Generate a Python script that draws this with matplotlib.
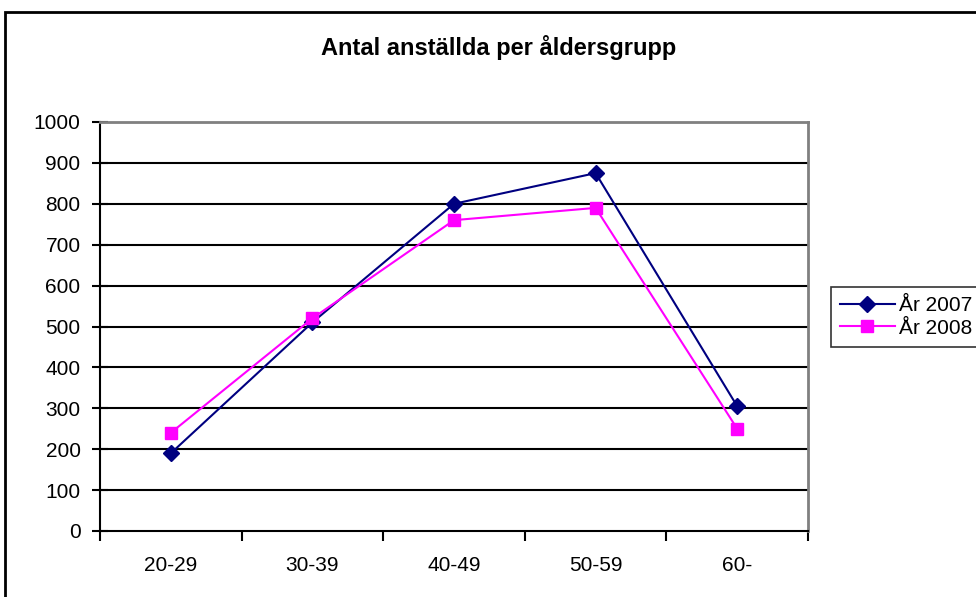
import matplotlib
matplotlib.use('Agg')
import matplotlib.pyplot as plt
from matplotlib.patches import Rectangle

categories = ['20-29', '30-39', '40-49', '50-59', '60-']
ar_2007 = [190, 510, 800, 875, 305]
ar_2008 = [240, 520, 760, 790, 250]
yticks = list(range(0, 1001, 100))

plt.rcParams['font.family'] = ['Liberation Sans', 'DejaVu Sans']

fig = plt.figure(figsize=(9.76, 5.97), dpi=100)
ax = fig.add_axes([100/976, 1 - 531/597, 708/976, 409/597])

x = list(range(len(categories)))
ax.plot(x, ar_2007, color='#000080', marker='D', markersize=8.5, lw=1.5,
        label='År 2007', zorder=3)
ax.plot(x, ar_2008, color='#FF00FF', marker='s', markersize=8.5, lw=1.5,
        label='År 2008', zorder=3)

ax.set_xlim(-0.5, len(categories) - 0.5)
ax.set_ylim(0, 1000)
ax.set_yticks(yticks)
ax.set_yticklabels([str(v) for v in yticks], fontsize=15)
for v in yticks[1:]:
    ax.axhline(v, color='black', lw=1.5, zorder=1)

ax.set_xticks(x)
ax.set_xticklabels(categories, fontsize=15)
ax.set_xticks([i - 0.5 for i in range(len(categories) + 1)], minor=True)
ax.tick_params(axis='x', which='major', length=0, pad=18)
ax.tick_params(axis='x', which='minor', length=7, width=1.5, direction='out')
ax.tick_params(axis='y', length=12, width=1.5, direction='inout', pad=8)

for s in ['top', 'right']:
    ax.spines[s].set_color('#808080')
    ax.spines[s].set_linewidth(2)
for s in ['left', 'bottom']:
    ax.spines[s].set_color('black')
    ax.spines[s].set_linewidth(1.5)

fig.text(499/976, 1 - 47/597, 'Antal anställda per åldersgrupp', ha='center',
         va='center', fontsize=17, fontweight='bold')

leg = fig.legend(loc='upper left', bbox_to_anchor=(831/976, 1 - 287/597),
                 fontsize=15, frameon=True, fancybox=False, edgecolor='black',
                 handlelength=2.6, handletextpad=0.2, labelspacing=0.15,
                 borderpad=0.45, borderaxespad=0)
leg.get_frame().set_linewidth(1.2)

# outer chart border
fig.patches.append(Rectangle((5/976, -0.1), 1.2, 1 - 12/597 + 0.1,
                             transform=fig.transFigure, fill=False,
                             edgecolor='black', lw=2))

fig.savefig('out.png', dpi=100)
